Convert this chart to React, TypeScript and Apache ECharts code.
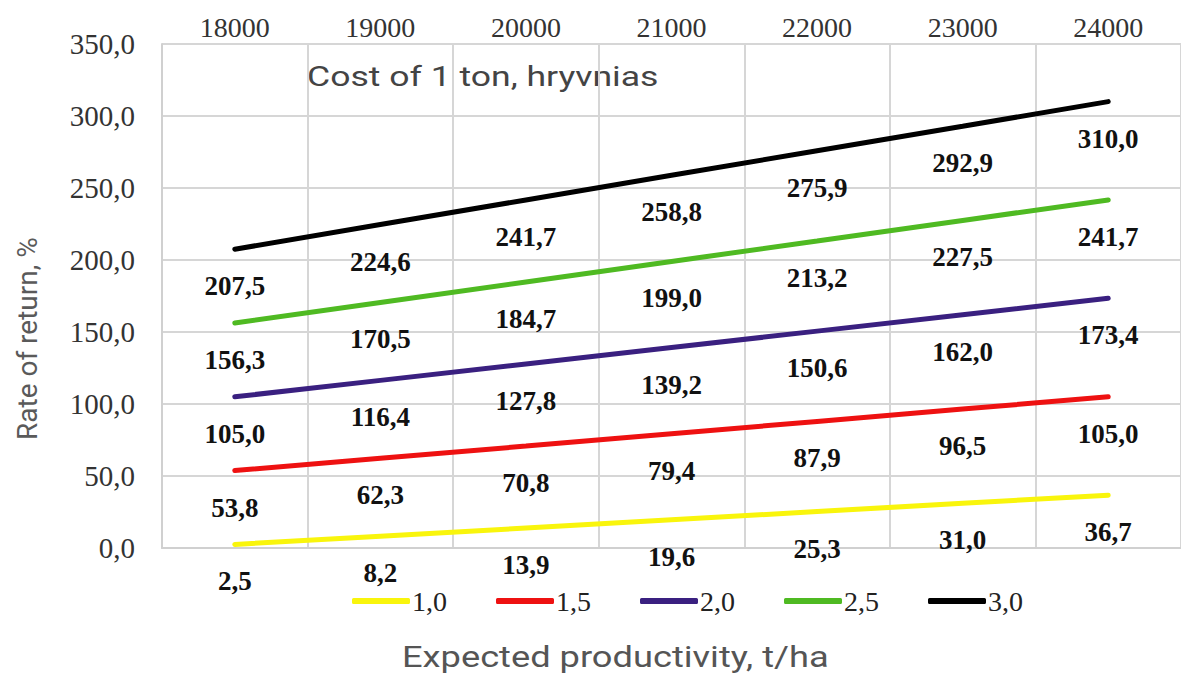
import React, { useEffect, useRef } from "react";
import * as echarts from "echarts";

const categories = ["18000", "19000", "20000", "21000", "22000", "23000", "24000"];
const seriesNames = ["1,0", "1,5", "2,0", "2,5", "3,0"];
const s10 = [2.5, 8.2, 13.9, 19.6, 25.3, 31.0, 36.7];
const s15 = [53.8, 62.3, 70.8, 79.4, 87.9, 96.5, 105.0];
const s20 = [105.0, 116.4, 127.8, 139.2, 150.6, 162.0, 173.4];
const s25 = [156.3, 170.5, 184.7, 199.0, 213.2, 227.5, 241.7];
const s30 = [207.5, 224.6, 241.7, 258.8, 275.9, 292.9, 310.0];
const seriesData = [s10, s15, s20, s25, s30];
const colors = ["#f9f50c", "#ee1111", "#3a2080", "#4fba22", "#000000"];

const fmt = (v: number) => v.toFixed(1).replace(".", ",");

export default function App() {
  const ref = useRef<HTMLDivElement>(null);
  useEffect(() => {
    document.body.style.margin = "0";
    document.body.style.overflow = "hidden";
    const chart = echarts.init(ref.current!, null, { renderer: "svg" });
    const serif = "'Liberation Serif', 'Times New Roman', serif";
    chart.setOption({
      animation: false,
      backgroundColor: "#ffffff",
      grid: { left: 162, top: 44, bottom: 131, right: -15 },
      legend: {
        data: seriesNames,
        left: 347,
        top: 582,
        itemWidth: 58,
        itemHeight: 6,
        itemGap: 49,
        icon: "roundRect",
        textStyle: { fontFamily: serif, fontSize: 28, color: "#222", padding: [0, 0, 0, -3] },
      },
      xAxis: {
        type: "category",
        position: "top",
        data: categories,
        boundaryGap: true,
        axisLine: { show: true, lineStyle: { color: "#d0d0d0", width: 2 } },
        axisTick: { show: false },
        axisLabel: { fontFamily: serif, fontSize: 28, color: "#333", margin: 3 },
        splitLine: { show: true, lineStyle: { color: "#d6d6d6", width: 2 } },
      },
      yAxis: {
        type: "value",
        min: 0,
        max: 350,
        interval: 50,
        axisLine: { show: true, lineStyle: { color: "#d0d0d0", width: 2 } },
        axisTick: { show: false },
        axisLabel: {
          fontFamily: serif,
          fontSize: 29,
          color: "#333",
          margin: 27,
          formatter: (v: number) => fmt(v),
        },
        splitLine: { show: true, lineStyle: { color: "#d6d6d6", width: 2 } },
      },
      series: seriesData.map((d, i) => ({
        name: seriesNames[i],
        type: "line",
        data: d,
        showSymbol: true,
        symbol: "circle",
        symbolSize: 1,
        lineStyle: { color: colors[i], width: 5, cap: "round" },
        itemStyle: { color: colors[i] },
        label: {
          show: true,
          position: "bottom",
          distance: 23,
          fontFamily: serif,
          fontWeight: "bold",
          fontSize: 27,
          color: "#111",
          formatter: (p: any) => fmt(p.value),
        },
      })),
      graphic: [
        {
          type: "text",
          x: 307,
          y: 62,
          scaleX: 1.27,
          style: { text: "Cost of 1 ton, hryvnias", fontFamily: "Roboto", fontSize: 28, fill: "#444" },
        },
        {
          type: "text",
          x: 402,
          y: 643,
          scaleX: 1.25,
          style: { text: "Expected productivity, t/ha", fontFamily: "Roboto", fontSize: 29, fill: "#555" },
        },
        {
          type: "text",
          x: 13,
          y: 440,
          rotation: Math.PI / 2,
          style: { text: "Rate of return, %", fontFamily: "Roboto", fontSize: 28, fill: "#5a5a5a" },
        },
      ],
    });
    return () => chart.dispose();
  }, []);
  return <div ref={ref} style={{ width: 1181, height: 679 }} />;
}
